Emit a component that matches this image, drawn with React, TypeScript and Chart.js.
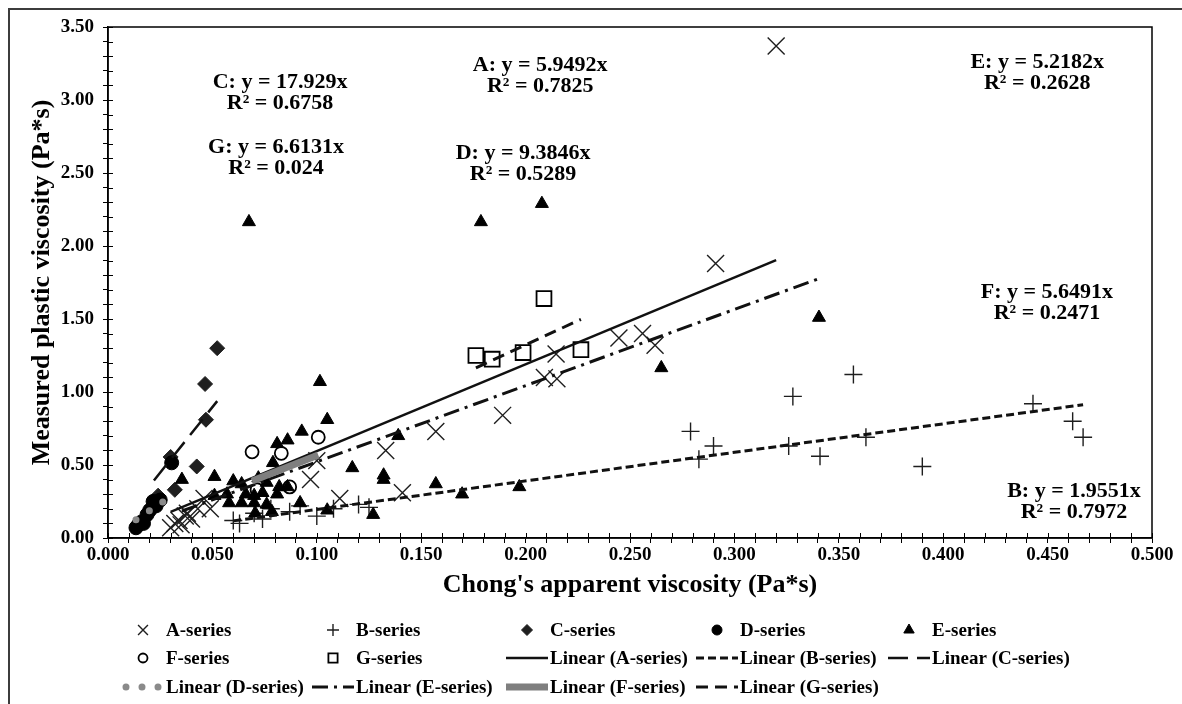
import React, { useEffect, useRef } from "react";
import { Chart, registerables } from "chart.js";

Chart.register(...registerables);

// ---------------- data ----------------
const SERIES_NAMES = ["A-series", "B-series", "C-series", "D-series", "E-series", "F-series", "G-series"];
const SERIES_KEYS = ["A", "B", "C", "D", "E", "F", "G"];

const A_X = [0.030, 0.032, 0.034, 0.035, 0.037, 0.038, 0.040, 0.043, 0.046, 0.049, 0.097, 0.100, 0.111, 0.133, 0.141, 0.157, 0.189, 0.209, 0.215, 0.2146, 0.2447, 0.256, 0.262, 0.291, 0.320];
const A_Y = [0.07, 0.10, 0.12, 0.09, 0.15, 0.17, 0.13, 0.20, 0.27, 0.20, 0.40, 0.53, 0.27, 0.60, 0.31, 0.73, 0.84, 1.10, 1.09, 1.26, 1.37, 1.40, 1.32, 1.88, 3.37];

const B_X = [0.060, 0.063, 0.070, 0.074, 0.078, 0.087, 0.092, 0.100, 0.108, 0.120, 0.125, 0.279, 0.283, 0.290, 0.326, 0.328, 0.341, 0.357, 0.363, 0.390, 0.443, 0.462, 0.467];
const B_Y = [0.12, 0.10, 0.17, 0.13, 0.20, 0.18, 0.22, 0.15, 0.20, 0.23, 0.21, 0.73, 0.54, 0.63, 0.63, 0.97, 0.56, 1.12, 0.69, 0.49, 0.92, 0.80, 0.69];

const C_X = [0.022, 0.024, 0.030, 0.032, 0.0425, 0.0465, 0.0469, 0.0523];
const C_Y = [0.22, 0.29, 0.555, 0.33, 0.49, 1.055, 0.81, 1.30];

const D_X = [0.0134, 0.0145, 0.016, 0.017, 0.0187, 0.020, 0.0216, 0.023, 0.025, 0.0305];
const D_Y = [0.07, 0.09, 0.11, 0.10, 0.16, 0.19, 0.25, 0.22, 0.26, 0.515];

const E_X = [0.0354, 0.051, 0.051, 0.057, 0.058, 0.060, 0.064, 0.064, 0.066, 0.0675, 0.070, 0.070, 0.0705, 0.072, 0.074, 0.076, 0.076, 0.0785, 0.079, 0.081, 0.081, 0.082, 0.086, 0.086, 0.092, 0.0928, 0.1015, 0.105, 0.105, 0.117, 0.127, 0.132, 0.132, 0.139, 0.157, 0.1696, 0.1786, 0.197, 0.2078, 0.265, 0.3405];
const E_Y = [0.40, 0.42, 0.29, 0.30, 0.24, 0.39, 0.37, 0.24, 0.30, 2.165, 0.24, 0.29, 0.17, 0.41, 0.31, 0.38, 0.23, 0.18, 0.515, 0.645, 0.30, 0.35, 0.67, 0.35, 0.24, 0.73, 1.07, 0.81, 0.19, 0.48, 0.16, 0.43, 0.40, 0.70, 0.37, 0.30, 2.165, 0.35, 2.29, 1.165, 1.51];

const F_X = [0.069, 0.0714, 0.083, 0.087, 0.1007];
const F_Y = [0.59, 0.33, 0.58, 0.35, 0.69];

const G_X = [0.1762, 0.184, 0.1988, 0.2088, 0.2265];
const G_Y = [1.25, 1.225, 1.27, 1.64, 1.29];

// fitted trend lines (through origin), as printed on the chart
const SLOPE_TEXT = ["5.9492", "1.9551", "17.929", "9.3846", "5.2182", "5.6491", "6.6131"];
const R2_TEXT = ["0.7825", "0.7972", "0.6758", "0.5289", "0.2628", "0.2471", "0.024"];

const X_TICK_LABELS = ["0.000", "0.050", "0.100", "0.150", "0.200", "0.250", "0.300", "0.350", "0.400", "0.450", "0.500"];
const Y_TICK_LABELS = ["0.00", "0.50", "1.00", "1.50", "2.00", "2.50", "3.00", "3.50"];

const X_TITLE = "Chong's apparent viscosity (Pa*s)";
const Y_TITLE = "Measured plastic viscosity (Pa*s)";

// ---------------- layout / style ----------------
const FONT = "'Liberation Serif', 'Times New Roman', serif";
const W = 1182;
const H = 704;

// equation label anchors (data units, centre of first line)
const EQ_POS = [
  [0.207, 3.236],
  [0.4626, 0.318],
  [0.0824, 3.12],
  [0.1988, 2.635],
  [0.445, 3.257],
  [0.4497, 1.685],
  [0.0805, 2.676],
];

type Marker = { style: string; radius: number; fill: string; stroke: string; width: number; lr: number };
const MARKERS: Marker[] = [
  { style: "crossRot", radius: 12, fill: "rgba(0,0,0,0)", stroke: "#1e1e1e", width: 1.4, lr: 7 },
  { style: "cross", radius: 9, fill: "rgba(0,0,0,0)", stroke: "#1e1e1e", width: 1.4, lr: 6 },
  { style: "rectRot", radius: 7.5, fill: "#1f1f1f", stroke: "#1f1f1f", width: 1, lr: 5.5 },
  { style: "circle", radius: 7, fill: "#000000", stroke: "#000000", width: 1, lr: 5 },
  { style: "triangle", radius: 7.5, fill: "#000000", stroke: "#000000", width: 1, lr: 6 },
  { style: "circle", radius: 6.5, fill: "rgba(0,0,0,0)", stroke: "#000000", width: 1.8, lr: 4.5 },
  { style: "rect", radius: 10.5, fill: "rgba(0,0,0,0)", stroke: "#000000", width: 1.8, lr: 6.5 },
];

type Trend = { color: string; width: number; dash: number[]; cap: CanvasLineCap };
const TRENDS: Trend[] = [
  { color: "#111111", width: 2.5, dash: [], cap: "butt" },
  { color: "#111111", width: 3, dash: [8, 4], cap: "butt" },
  { color: "#111111", width: 2.5, dash: [20, 9], cap: "butt" },
  { color: "#8a8a8a", width: 7, dash: [0, 16], cap: "round" },
  { color: "#111111", width: 3, dash: [16, 6, 3, 6], cap: "butt" },
  { color: "#7f7f7f", width: 7, dash: [], cap: "butt" },
  { color: "#111111", width: 3, dash: [12, 7], cap: "butt" },
];

const LEG_COLS = [122, 312, 506, 696, 888];
const LEG_ROWS = [630, 658, 687];

const SERIES_X = [A_X, B_X, C_X, D_X, E_X, F_X, G_X];
const SERIES_Y = [A_Y, B_Y, C_Y, D_Y, E_Y, F_Y, G_Y];

function drawMarker(ctx: CanvasRenderingContext2D, m: Marker, x: number, y: number, r: number) {
  ctx.save();
  ctx.lineWidth = m.width;
  ctx.strokeStyle = m.stroke;
  ctx.fillStyle = m.fill;
  ctx.beginPath();
  if (m.style === "crossRot") {
    const d = r * Math.SQRT1_2;
    ctx.moveTo(x - d, y - d); ctx.lineTo(x + d, y + d);
    ctx.moveTo(x + d, y - d); ctx.lineTo(x - d, y + d);
    ctx.stroke();
  } else if (m.style === "cross") {
    ctx.moveTo(x - r, y); ctx.lineTo(x + r, y);
    ctx.moveTo(x, y - r); ctx.lineTo(x, y + r);
    ctx.stroke();
  } else if (m.style === "rectRot") {
    ctx.moveTo(x - r, y); ctx.lineTo(x, y - r); ctx.lineTo(x + r, y); ctx.lineTo(x, y + r); ctx.closePath();
    ctx.fill(); ctx.stroke();
  } else if (m.style === "circle") {
    ctx.arc(x, y, r, 0, Math.PI * 2);
    ctx.fill(); ctx.stroke();
  } else if (m.style === "triangle") {
    const w = r * Math.sin(Math.PI / 3);
    ctx.moveTo(x, y - r); ctx.lineTo(x + w, y + r / 2); ctx.lineTo(x - w, y + r / 2); ctx.closePath();
    ctx.fill(); ctx.stroke();
  } else if (m.style === "rect") {
    const s = r * Math.SQRT1_2;
    ctx.rect(x - s, y - s, 2 * s, 2 * s);
    ctx.fill(); ctx.stroke();
  }
  ctx.restore();
}

const decorPlugin = {
  id: "decor",
  beforeDraw(chart: any) {
    const ctx = chart.ctx as CanvasRenderingContext2D;
    ctx.save();
    ctx.fillStyle = "#ffffff";
    ctx.fillRect(0, 0, chart.width, chart.height);
    ctx.restore();
  },
  afterDraw(chart: any) {
    const ctx = chart.ctx as CanvasRenderingContext2D;
    const ca = chart.chartArea;
    const xs = chart.scales.x;
    const ys = chart.scales.y;
    ctx.save();

    // outer frame
    ctx.strokeStyle = "#3c3c3c";
    ctx.lineWidth = 2;
    ctx.beginPath();
    ctx.moveTo(9, chart.height + 5);
    ctx.lineTo(9, 9);
    ctx.lineTo(chart.width + 5, 9);
    ctx.stroke();

    // plot box
    ctx.strokeStyle = "#000";
    ctx.lineWidth = 1.5;
    ctx.strokeRect(ca.left, ca.top, ca.right - ca.left, ca.bottom - ca.top);

    // inner halves of tick marks
    ctx.lineWidth = 1;
    ctx.beginPath();
    xs.ticks.forEach((t: any) => {
      const px = Math.round(xs.getPixelForValue(t.value)) + 0.5;
      ctx.moveTo(px, ca.bottom);
      ctx.lineTo(px, ca.bottom - 5);
    });
    ys.ticks.forEach((t: any) => {
      const py = Math.round(ys.getPixelForValue(t.value)) + 0.5;
      ctx.moveTo(ca.left, py);
      ctx.lineTo(ca.left + 5, py);
    });
    ctx.stroke();

    // axis titles
    ctx.fillStyle = "#000";
    ctx.font = `bold 26px ${FONT}`;
    ctx.textAlign = "center";
    ctx.textBaseline = "middle";
    ctx.fillText(X_TITLE, (ca.left + ca.right) / 2, 585);
    ctx.save();
    ctx.translate(42, (ca.top + ca.bottom) / 2);
    ctx.rotate(-Math.PI / 2);
    ctx.fillText(Y_TITLE, 0, 0);
    ctx.restore();

    // equations
    ctx.font = `bold 22px ${FONT}`;
    SERIES_KEYS.forEach((k, i) => {
      const px = xs.getPixelForValue(EQ_POS[i][0]);
      const py = ys.getPixelForValue(EQ_POS[i][1]);
      ctx.fillText(`${k}: y = ${SLOPE_TEXT[i]}x`, px, py);
      ctx.fillText(`R\u00B2 = ${R2_TEXT[i]}`, px, py + 21);
    });

    // legend
    const items: { kind: "pt" | "ln"; i: number; label: string }[] = [];
    SERIES_NAMES.forEach((n, i) => items.push({ kind: "pt", i, label: n }));
    SERIES_NAMES.forEach((n, i) => items.push({ kind: "ln", i, label: `Linear (${n})` }));
    ctx.font = `bold 19px ${FONT}`;
    ctx.textAlign = "left";
    items.forEach((it, idx) => {
      const row = Math.floor(idx / 5);
      const col = idx % 5;
      const x0 = LEG_COLS[col];
      const yy = LEG_ROWS[row];
      if (it.kind === "pt") {
        const m = MARKERS[it.i];
        drawMarker(ctx, m, x0 + 21, yy, m.lr);
      } else {
        const t = TRENDS[it.i];
        ctx.save();
        ctx.strokeStyle = t.color;
        ctx.lineWidth = t.width;
        ctx.setLineDash(t.dash);
        ctx.lineCap = t.cap;
        ctx.beginPath();
        const s = it.i === 3 ? x0 + 4 : x0;
        ctx.moveTo(s, yy);
        ctx.lineTo(x0 + 42, yy);
        ctx.stroke();
        ctx.restore();
      }
      ctx.fillStyle = "#000";
      ctx.fillText(it.label, x0 + 44, yy + 1);
    });

    ctx.restore();
  },
};

export default function App() {
  const ref = useRef<HTMLCanvasElement>(null);

  useEffect(() => {
    const canvas = ref.current;
    if (!canvas) return;

    const ptsOf = (xv: number[], yv: number[]) => xv.map((x, i) => ({ x, y: yv[i] }));

    const pointSets = SERIES_X.map((xv, i) => {
      const m = MARKERS[i];
      return {
        type: "scatter" as const,
        label: SERIES_NAMES[i],
        data: ptsOf(xv, SERIES_Y[i]),
        showLine: false,
        pointStyle: m.style,
        pointRadius: m.radius,
        pointHoverRadius: m.radius,
        backgroundColor: m.fill,
        borderColor: m.stroke,
        borderWidth: m.width,
        order: 20 - i,
      };
    });

    const trendSets = SERIES_X.map((xv, i) => {
      const t = TRENDS[i];
      const lo = Math.min(...xv);
      const hi = Math.max(...xv);
      const k = parseFloat(SLOPE_TEXT[i]);
      return {
        type: "scatter" as const,
        label: `Linear (${SERIES_NAMES[i]})`,
        data: [
          { x: lo, y: k * lo },
          { x: hi, y: k * hi },
        ],
        showLine: true,
        fill: false,
        pointRadius: 0,
        pointHoverRadius: 0,
        borderColor: t.color,
        backgroundColor: t.color,
        borderWidth: t.width,
        borderDash: t.dash,
        borderCapStyle: t.cap,
        order: 7 - i,
      };
    });

    const tickFont = { family: FONT, size: 19, weight: "bold" as const };

    const chart = new Chart(canvas, {
      type: "scatter",
      data: { datasets: [...pointSets, ...trendSets] as any },
      options: {
        responsive: false,
        animation: false,
        events: [],
        layout: { padding: { left: 0, top: 27, right: W - 1152, bottom: 0 } },
        plugins: {
          legend: { display: false },
          tooltip: { enabled: false },
          title: { display: false },
        },
        scales: {
          x: {
            type: "linear",
            min: 0,
            max: 0.5,
            ticks: {
              stepSize: 0.01,
              autoSkip: false,
              maxRotation: 0,
              minRotation: 0,
              padding: 1,
              color: "#000",
              font: tickFont,
              callback: (_v: any, i: number) => (i % 5 === 0 ? X_TICK_LABELS[i / 5] : ""),
            },
            grid: { display: true, drawOnChartArea: false, drawTicks: true, tickLength: 5, color: "#000", lineWidth: 1 },
            border: { display: true, color: "#000", width: 1.5 },
            afterFit: (s: any) => {
              s.height = H - 538;
            },
          },
          y: {
            type: "linear",
            min: 0,
            max: 3.5,
            ticks: {
              stepSize: 0.1,
              autoSkip: false,
              padding: 9,
              color: "#000",
              font: tickFont,
              callback: (_v: any, i: number) => (i % 5 === 0 ? Y_TICK_LABELS[i / 5] : ""),
            },
            grid: { display: true, drawOnChartArea: false, drawTicks: true, tickLength: 5, color: "#000", lineWidth: 1 },
            border: { display: true, color: "#000", width: 1.5 },
            afterFit: (s: any) => {
              s.width = 108;
            },
          },
        },
      } as any,
      plugins: [decorPlugin],
    });

    return () => chart.destroy();
  }, []);

  return (
    <div style={{ position: "fixed", left: 0, top: 0, width: W, height: H, background: "#fff" }}>
      <canvas ref={ref} width={W} height={H} style={{ display: "block", width: W, height: H }} />
    </div>
  );
}
